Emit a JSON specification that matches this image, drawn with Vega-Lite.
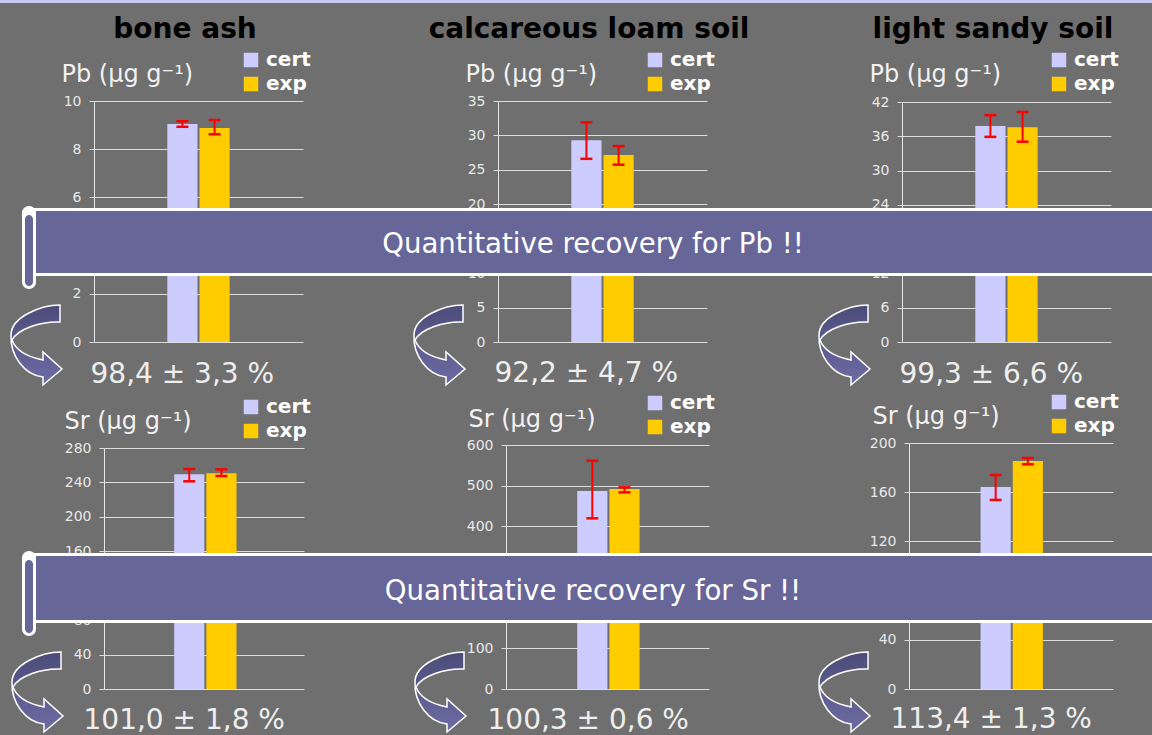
{
  "$schema": "https://vega.github.io/schema/vega-lite/v6.json",
  "background": "#6f6f6f",
  "padding": 0,
  "bounds": "flush",
  "columns": 3,
  "spacing": {"row": 101, "column": 195},
  "data": {"values": [
    {"panel": "p1", "series": "cert", "value": 9.05, "lo": 8.93, "hi": 9.16},
    {"panel": "p1", "series": "exp", "value": 8.88, "lo": 8.62, "hi": 9.21},
    {"panel": "p2", "series": "cert", "value": 29.3, "lo": 26.6, "hi": 31.9},
    {"panel": "p2", "series": "exp", "value": 27.15, "lo": 25.75, "hi": 28.45},
    {"panel": "p3", "series": "cert", "value": 37.8, "lo": 35.9, "hi": 39.7},
    {"panel": "p3", "series": "exp", "value": 37.6, "lo": 35.05, "hi": 40.25},
    {"panel": "p4", "series": "cert", "value": 249.4, "lo": 241.3, "hi": 255.6},
    {"panel": "p4", "series": "exp", "value": 250.6, "lo": 247.5, "hi": 255.2},
    {"panel": "p5", "series": "cert", "value": 487, "lo": 419.7, "hi": 561.4},
    {"panel": "p5", "series": "exp", "value": 492, "lo": 483.6, "hi": 495.9},
    {"panel": "p6", "series": "cert", "value": 164.2, "lo": 153.7, "hi": 174},
    {"panel": "p6", "series": "exp", "value": 185.4, "lo": 182.7, "hi": 187.8}
  ]},
  "resolve": {"scale": {"color": "independent"}, "legend": {"color": "independent"}},
  "config": {
    "view": {"stroke": null, "fill": null},
    "font": "DejaVu Sans",
    "axis": {
      "gridColor": "#dcdcdc", "gridOpacity": 1, "gridWidth": 1,
      "domainColor": "#e6e6e6", "domainWidth": 1,
      "tickColor": "#dcdcdc", "tickSize": 5, "tickWidth": 1, "tickCount": 20,
      "labelColor": "#e8e8e8", "labelFontSize": 14, "labelFont": "DejaVu Sans", "labelPadding": 8,
      "labelOverlap": false, "labelFlush": false, "format": "d",
      "titleFont": "DejaVu Sans", "titleColor": "#f2f2f2", "titleFontSize": 24, "titleFontWeight": "normal",
      "titleAngle": 0, "titleAlign": "left", "titleBaseline": "alphabetic"
    },
    "legend": {
      "symbolType": "square", "symbolSize": 210, "symbolStrokeWidth": 0, "symbolOpacity": 1,
      "labelFontSize": 20, "labelFontWeight": "bold", "labelColor": "#ffffff", "labelFont": "DejaVu Sans",
      "labelOffset": 5, "rowPadding": 4, "padding": 0
    },
    "point": {"shape": "M0.6,-1C0.125,-1,-0.625,-0.7,-0.625,-0.25C-0.65,0.25,-0.3,0.75,0.175,0.8L0.175,1L0.65,0.6L0.175,0.175L0.175,0.375C-0.2,0.3,-0.5,0.15,-0.6,-0.125C-0.45,-0.4,0.125,-0.6,0.6,-0.575Z", "size": 6400, "filled": true, "stroke": "#ffffff", "strokeWidth": 1.5, "opacity": 1,
              "fill": {"gradient": "linear", "x1": 0, "y1": 0, "x2": 0, "y2": 1, "stops": [{"offset": 0, "color": "#4c4c7a"}, {"offset": 1, "color": "#6c6ca4"}]}},
    "title": {"anchor": "middle", "frame": "group", "dx": -13.5, "dy": -2, "fontSize": 28, "fontWeight": "bold", "color": "#000000", "font": "DejaVu Sans", "offset": 0}
  },
  "concat": [
    {
      "width": 209, "height": 241,
      "title": {"text": "bone ash"},
      "transform": [{"filter": "datum.panel === 'p1'"}],
      "layer": [
        {"mark": {"type": "bar"},
         "encoding": {
           "x": {"field": "panel", "type": "nominal",
                 "scale": {"range": [0, 209], "paddingInner": 0.15, "paddingOuter": 1},
                 "axis": {"orient": "bottom", "title": "98,4 ± 3,3 %", "titleX": -4, "titleY": 40, "domain": false, "ticks": false, "labels": false, "grid": false, "titleFontSize": 28, "titleColor": "#eeeeee"}},
           "xOffset": {"field": "series", "type": "nominal", "scale": {"domain": ["cert", "exp"], "paddingInner": 0.0625, "paddingOuter": 0}},
           "y": {"field": "value", "type": "quantitative",
                 "scale": {"domain": [0, 10], "range": [241, 0], "nice": false},
                 "axis": {"values": [0, 2, 4, 6, 8, 10], "tickCount": 20, "format": "d", "title": "Pb (µg g⁻¹)", "titleX": -33, "titleY": -20}},
           "color": {"field": "series", "type": "nominal",
                     "scale": {"domain": ["cert", "exp"], "range": ["#ccccff", "#ffcc00"]},
                     "legend": {"orient": "none", "legendX": 147, "legendY": -51, "title": null}}
         }},
        {"mark": {"type": "rule", "color": "#ff0000", "strokeWidth": 2},
         "encoding": {
           "x": {"field": "panel", "type": "nominal"},
           "xOffset": {"field": "series", "type": "nominal"},
           "y": {"field": "lo", "type": "quantitative"}, "y2": {"field": "hi"}}},
        {"mark": {"type": "tick", "color": "#ff0000", "size": 12, "thickness": 2.5, "opacity": 1},
         "encoding": {"x": {"field": "panel", "type": "nominal"}, "xOffset": {"field": "series", "type": "nominal"}, "y": {"field": "lo", "type": "quantitative"}}},
        {"mark": {"type": "tick", "color": "#ff0000", "size": 12, "thickness": 2.5, "opacity": 1},
         "encoding": {"x": {"field": "panel", "type": "nominal"}, "xOffset": {"field": "series", "type": "nominal"}, "y": {"field": "hi", "type": "quantitative"}}},
        {"data": {"values": [{"panel": "p1"}]}, "mark": {"type": "point"},
         "encoding": {"x": {"value": -58}, "y": {"value": 244}}}
      ]
    },
    {
      "width": 209, "height": 241,
      "title": {"text": "calcareous loam soil"},
      "transform": [{"filter": "datum.panel === 'p2'"}],
      "layer": [
        {"mark": {"type": "bar"},
         "encoding": {
           "x": {"field": "panel", "type": "nominal",
                 "scale": {"range": [0, 209], "paddingInner": 0.15, "paddingOuter": 1},
                 "axis": {"orient": "bottom", "title": "92,2 ± 4,7 %", "titleX": -4, "titleY": 39, "domain": false, "ticks": false, "labels": false, "grid": false, "titleFontSize": 28, "titleColor": "#eeeeee"}},
           "xOffset": {"field": "series", "type": "nominal", "scale": {"domain": ["cert", "exp"], "paddingInner": 0.0625, "paddingOuter": 0}},
           "y": {"field": "value", "type": "quantitative",
                 "scale": {"domain": [0, 35], "range": [241, 0], "nice": false},
                 "axis": {"values": [0, 5, 10, 15, 20, 25, 30, 35], "tickCount": 20, "format": "d", "title": "Pb (µg g⁻¹)", "titleX": -33, "titleY": -20}},
           "color": {"field": "series", "type": "nominal",
                     "scale": {"domain": ["cert", "exp"], "range": ["#ccccff", "#ffcc00"]},
                     "legend": {"orient": "none", "legendX": 147, "legendY": -51, "title": null}}
         }},
        {"mark": {"type": "rule", "color": "#ff0000", "strokeWidth": 2},
         "encoding": {
           "x": {"field": "panel", "type": "nominal"},
           "xOffset": {"field": "series", "type": "nominal"},
           "y": {"field": "lo", "type": "quantitative"}, "y2": {"field": "hi"}}},
        {"mark": {"type": "tick", "color": "#ff0000", "size": 12, "thickness": 2.5, "opacity": 1},
         "encoding": {"x": {"field": "panel", "type": "nominal"}, "xOffset": {"field": "series", "type": "nominal"}, "y": {"field": "lo", "type": "quantitative"}}},
        {"mark": {"type": "tick", "color": "#ff0000", "size": 12, "thickness": 2.5, "opacity": 1},
         "encoding": {"x": {"field": "panel", "type": "nominal"}, "xOffset": {"field": "series", "type": "nominal"}, "y": {"field": "hi", "type": "quantitative"}}},
        {"data": {"values": [{"panel": "p2"}]}, "mark": {"type": "point"},
         "encoding": {"x": {"value": -59}, "y": {"value": 244}}}
      ]
    },
    {
      "width": 209, "height": 241,
      "title": {"text": "light sandy soil"},
      "transform": [{"filter": "datum.panel === 'p3'"}],
      "layer": [
        {"mark": {"type": "bar"},
         "encoding": {
           "x": {"field": "panel", "type": "nominal",
                 "scale": {"range": [0, 209], "paddingInner": 0.15, "paddingOuter": 1},
                 "axis": {"orient": "bottom", "title": "99,3 ± 6,6 %", "titleX": -3, "titleY": 40, "domain": false, "ticks": false, "labels": false, "grid": false, "titleFontSize": 28, "titleColor": "#eeeeee"}},
           "xOffset": {"field": "series", "type": "nominal", "scale": {"domain": ["cert", "exp"], "paddingInner": 0.0625, "paddingOuter": 0}},
           "y": {"field": "value", "type": "quantitative",
                 "scale": {"domain": [0, 42], "range": [241, 1], "nice": false},
                 "axis": {"values": [0, 6, 12, 18, 24, 30, 36, 42], "tickCount": 20, "format": "d", "title": "Pb (µg g⁻¹)", "titleX": -33, "titleY": -20}},
           "color": {"field": "series", "type": "nominal",
                     "scale": {"domain": ["cert", "exp"], "range": ["#ccccff", "#ffcc00"]},
                     "legend": {"orient": "none", "legendX": 147, "legendY": -51, "title": null}}
         }},
        {"mark": {"type": "rule", "color": "#ff0000", "strokeWidth": 2},
         "encoding": {
           "x": {"field": "panel", "type": "nominal"},
           "xOffset": {"field": "series", "type": "nominal"},
           "y": {"field": "lo", "type": "quantitative"}, "y2": {"field": "hi"}}},
        {"mark": {"type": "tick", "color": "#ff0000", "size": 12, "thickness": 2.5, "opacity": 1},
         "encoding": {"x": {"field": "panel", "type": "nominal"}, "xOffset": {"field": "series", "type": "nominal"}, "y": {"field": "lo", "type": "quantitative"}}},
        {"mark": {"type": "tick", "color": "#ff0000", "size": 12, "thickness": 2.5, "opacity": 1},
         "encoding": {"x": {"field": "panel", "type": "nominal"}, "xOffset": {"field": "series", "type": "nominal"}, "y": {"field": "hi", "type": "quantitative"}}},
        {"data": {"values": [{"panel": "p3"}]}, "mark": {"type": "point"},
         "encoding": {"x": {"value": -58}, "y": {"value": 244}}},
        {"data": {"values": [{"panel": "p3"}]}, "mark": {"type": "rect", "fill": "#ffffff"},
         "encoding": {"x": {"value": -869}, "x2": {"value": 250}, "y": {"value": 107}, "y2": {"value": 175}}},
        {"data": {"values": [{"panel": "p3"}]}, "mark": {"type": "rect", "fill": "#666699"},
         "encoding": {"x": {"value": -866}, "x2": {"value": 250}, "y": {"value": 110}, "y2": {"value": 172}}},
        {"data": {"values": [{"panel": "p3"}]}, "mark": {"type": "rect", "fill": "#ffffff", "cornerRadius": 7},
         "encoding": {"x": {"value": -880}, "x2": {"value": -866}, "y": {"value": 105}, "y2": {"value": 188}}},
        {"data": {"values": [{"panel": "p3"}]}, "mark": {"type": "rect", "fill": "#666699", "cornerRadius": 4},
         "encoding": {"x": {"value": -877}, "x2": {"value": -869}, "y": {"value": 114}, "y2": {"value": 185}}},
        {"data": {"values": [{"panel": "p3", "label": "Quantitative recovery for Pb !!"}]},
         "mark": {"type": "text", "align": "center", "baseline": "alphabetic", "fontSize": 27.6, "color": "#ffffff", "font": "DejaVu Sans"},
         "encoding": {"x": {"value": -309}, "y": {"value": 152}, "text": {"field": "label"}}}
      ]
    },
    {
      "width": 209, "height": 246,
      "transform": [{"filter": "datum.panel === 'p4'"}],
      "layer": [
        {"data": {"values": [{"panel": "p4"}]}, "mark": {"type": "rect", "fill": "transparent"},
         "encoding": {"x": {"value": -94}, "x2": {"value": 1058}, "y": {"value": -443}, "y2": {"value": 292}}},
        {"data": {"values": [{"panel": "p4"}]}, "mark": {"type": "rect", "fill": "#c8c8f4"},
         "encoding": {"x": {"value": -94}, "x2": {"value": 1058}, "y": {"value": -443}, "y2": {"value": -440}}},
        {"mark": {"type": "bar"},
         "encoding": {
           "x": {"field": "panel", "type": "nominal",
                 "scale": {"range": [10, 210], "paddingInner": 0.15, "paddingOuter": 1},
                 "axis": {"orient": "bottom", "title": "101,0 ± 1,8 %", "titleX": -11, "titleY": 39, "domain": false, "ticks": false, "labels": false, "grid": false, "titleFontSize": 28, "titleColor": "#eeeeee"}},
           "xOffset": {"field": "series", "type": "nominal", "scale": {"domain": ["cert", "exp"], "paddingInner": 0.08, "paddingOuter": 0}},
           "y": {"field": "value", "type": "quantitative",
                 "scale": {"domain": [0, 280], "range": [246, 5], "nice": false},
                 "axis": {"values": [0, 40, 80, 120, 160, 200, 240, 280], "tickCount": 20, "format": "d", "offset": -10, "title": "Sr (µg g⁻¹)", "titleX": -40, "titleY": -15}},
           "color": {"field": "series", "type": "nominal",
                     "scale": {"domain": ["cert", "exp"], "range": ["#ccccff", "#ffcc00"]},
                     "legend": {"orient": "none", "legendX": 147, "legendY": -46, "title": null}}
         }},
        {"mark": {"type": "rule", "color": "#ff0000", "strokeWidth": 2},
         "encoding": {
           "x": {"field": "panel", "type": "nominal"},
           "xOffset": {"field": "series", "type": "nominal"},
           "y": {"field": "lo", "type": "quantitative"}, "y2": {"field": "hi"}}},
        {"mark": {"type": "tick", "color": "#ff0000", "size": 12, "thickness": 2.5, "opacity": 1},
         "encoding": {"x": {"field": "panel", "type": "nominal"}, "xOffset": {"field": "series", "type": "nominal"}, "y": {"field": "lo", "type": "quantitative"}}},
        {"mark": {"type": "tick", "color": "#ff0000", "size": 12, "thickness": 2.5, "opacity": 1},
         "encoding": {"x": {"field": "panel", "type": "nominal"}, "xOffset": {"field": "series", "type": "nominal"}, "y": {"field": "hi", "type": "quantitative"}}},
        {"data": {"values": [{"panel": "p4"}]}, "mark": {"type": "point"},
         "encoding": {"x": {"value": -57}, "y": {"value": 249}}}
      ]
    },
    {
      "width": 209, "height": 246,
      "transform": [{"filter": "datum.panel === 'p5'"}],
      "layer": [
        {"mark": {"type": "bar"},
         "encoding": {
           "x": {"field": "panel", "type": "nominal",
                 "scale": {"range": [8, 211], "paddingInner": 0.15, "paddingOuter": 1},
                 "axis": {"orient": "bottom", "title": "100,3 ± 0,6 %", "titleX": -11, "titleY": 39, "domain": false, "ticks": false, "labels": false, "grid": false, "titleFontSize": 28, "titleColor": "#eeeeee"}},
           "xOffset": {"field": "series", "type": "nominal", "scale": {"domain": ["cert", "exp"], "paddingInner": 0.08, "paddingOuter": 0}},
           "y": {"field": "value", "type": "quantitative",
                 "scale": {"domain": [0, 600], "range": [246, 2], "nice": false},
                 "axis": {"values": [0, 100, 200, 300, 400, 500, 600], "tickCount": 20, "format": "d", "offset": -8, "title": "Sr (µg g⁻¹)", "titleX": -38, "titleY": -17}},
           "color": {"field": "series", "type": "nominal",
                     "scale": {"domain": ["cert", "exp"], "range": ["#ccccff", "#ffcc00"]},
                     "legend": {"orient": "none", "legendX": 147, "legendY": -50, "title": null}}
         }},
        {"mark": {"type": "rule", "color": "#ff0000", "strokeWidth": 2},
         "encoding": {
           "x": {"field": "panel", "type": "nominal"},
           "xOffset": {"field": "series", "type": "nominal"},
           "y": {"field": "lo", "type": "quantitative"}, "y2": {"field": "hi"}}},
        {"mark": {"type": "tick", "color": "#ff0000", "size": 12, "thickness": 2.5, "opacity": 1},
         "encoding": {"x": {"field": "panel", "type": "nominal"}, "xOffset": {"field": "series", "type": "nominal"}, "y": {"field": "lo", "type": "quantitative"}}},
        {"mark": {"type": "tick", "color": "#ff0000", "size": 12, "thickness": 2.5, "opacity": 1},
         "encoding": {"x": {"field": "panel", "type": "nominal"}, "xOffset": {"field": "series", "type": "nominal"}, "y": {"field": "hi", "type": "quantitative"}}},
        {"data": {"values": [{"panel": "p5"}]}, "mark": {"type": "point"},
         "encoding": {"x": {"value": -58}, "y": {"value": 249}}}
      ]
    },
    {
      "width": 209, "height": 246,
      "transform": [{"filter": "datum.panel === 'p6'"}],
      "layer": [
        {"mark": {"type": "bar"},
         "encoding": {
           "x": {"field": "panel", "type": "nominal",
                 "scale": {"range": [7, 211], "paddingInner": 0.15, "paddingOuter": 1},
                 "axis": {"orient": "bottom", "title": "113,4 ± 1,3 %", "titleX": -12, "titleY": 38, "domain": false, "ticks": false, "labels": false, "grid": false, "titleFontSize": 28, "titleColor": "#eeeeee"}},
           "xOffset": {"field": "series", "type": "nominal", "scale": {"domain": ["cert", "exp"], "paddingInner": 0.08, "paddingOuter": 0}},
           "y": {"field": "value", "type": "quantitative",
                 "scale": {"domain": [0, 200], "range": [246, 0], "nice": false},
                 "axis": {"values": [0, 40, 80, 120, 160, 200], "tickCount": 20, "format": "d", "offset": -7, "title": "Sr (µg g⁻¹)", "titleX": -37, "titleY": -20}},
           "color": {"field": "series", "type": "nominal",
                     "scale": {"domain": ["cert", "exp"], "range": ["#ccccff", "#ffcc00"]},
                     "legend": {"orient": "none", "legendX": 147, "legendY": -51, "title": null}}
         }},
        {"mark": {"type": "rule", "color": "#ff0000", "strokeWidth": 2},
         "encoding": {
           "x": {"field": "panel", "type": "nominal"},
           "xOffset": {"field": "series", "type": "nominal"},
           "y": {"field": "lo", "type": "quantitative"}, "y2": {"field": "hi"}}},
        {"mark": {"type": "tick", "color": "#ff0000", "size": 12, "thickness": 2.5, "opacity": 1},
         "encoding": {"x": {"field": "panel", "type": "nominal"}, "xOffset": {"field": "series", "type": "nominal"}, "y": {"field": "lo", "type": "quantitative"}}},
        {"mark": {"type": "tick", "color": "#ff0000", "size": 12, "thickness": 2.5, "opacity": 1},
         "encoding": {"x": {"field": "panel", "type": "nominal"}, "xOffset": {"field": "series", "type": "nominal"}, "y": {"field": "hi", "type": "quantitative"}}},
        {"data": {"values": [{"panel": "p6"}]}, "mark": {"type": "point"},
         "encoding": {"x": {"value": -58}, "y": {"value": 249}}},
        {"data": {"values": [{"panel": "p6"}]}, "mark": {"type": "rect", "fill": "#ffffff"},
         "encoding": {"x": {"value": -869}, "x2": {"value": 250}, "y": {"value": 110}, "y2": {"value": 180}}},
        {"data": {"values": [{"panel": "p6"}]}, "mark": {"type": "rect", "fill": "#666699"},
         "encoding": {"x": {"value": -866}, "x2": {"value": 250}, "y": {"value": 113}, "y2": {"value": 177}}},
        {"data": {"values": [{"panel": "p6"}]}, "mark": {"type": "rect", "fill": "#ffffff", "cornerRadius": 7},
         "encoding": {"x": {"value": -880}, "x2": {"value": -866}, "y": {"value": 108}, "y2": {"value": 193}}},
        {"data": {"values": [{"panel": "p6"}]}, "mark": {"type": "rect", "fill": "#666699", "cornerRadius": 4},
         "encoding": {"x": {"value": -877}, "x2": {"value": -869}, "y": {"value": 117}, "y2": {"value": 190}}},
        {"data": {"values": [{"panel": "p6", "label": "Quantitative recovery for Sr !!"}]},
         "mark": {"type": "text", "align": "center", "baseline": "alphabetic", "fontSize": 27.6, "color": "#ffffff", "font": "DejaVu Sans"},
         "encoding": {"x": {"value": -309}, "y": {"value": 157}, "text": {"field": "label"}}}
      ]
    }
  ]
}
